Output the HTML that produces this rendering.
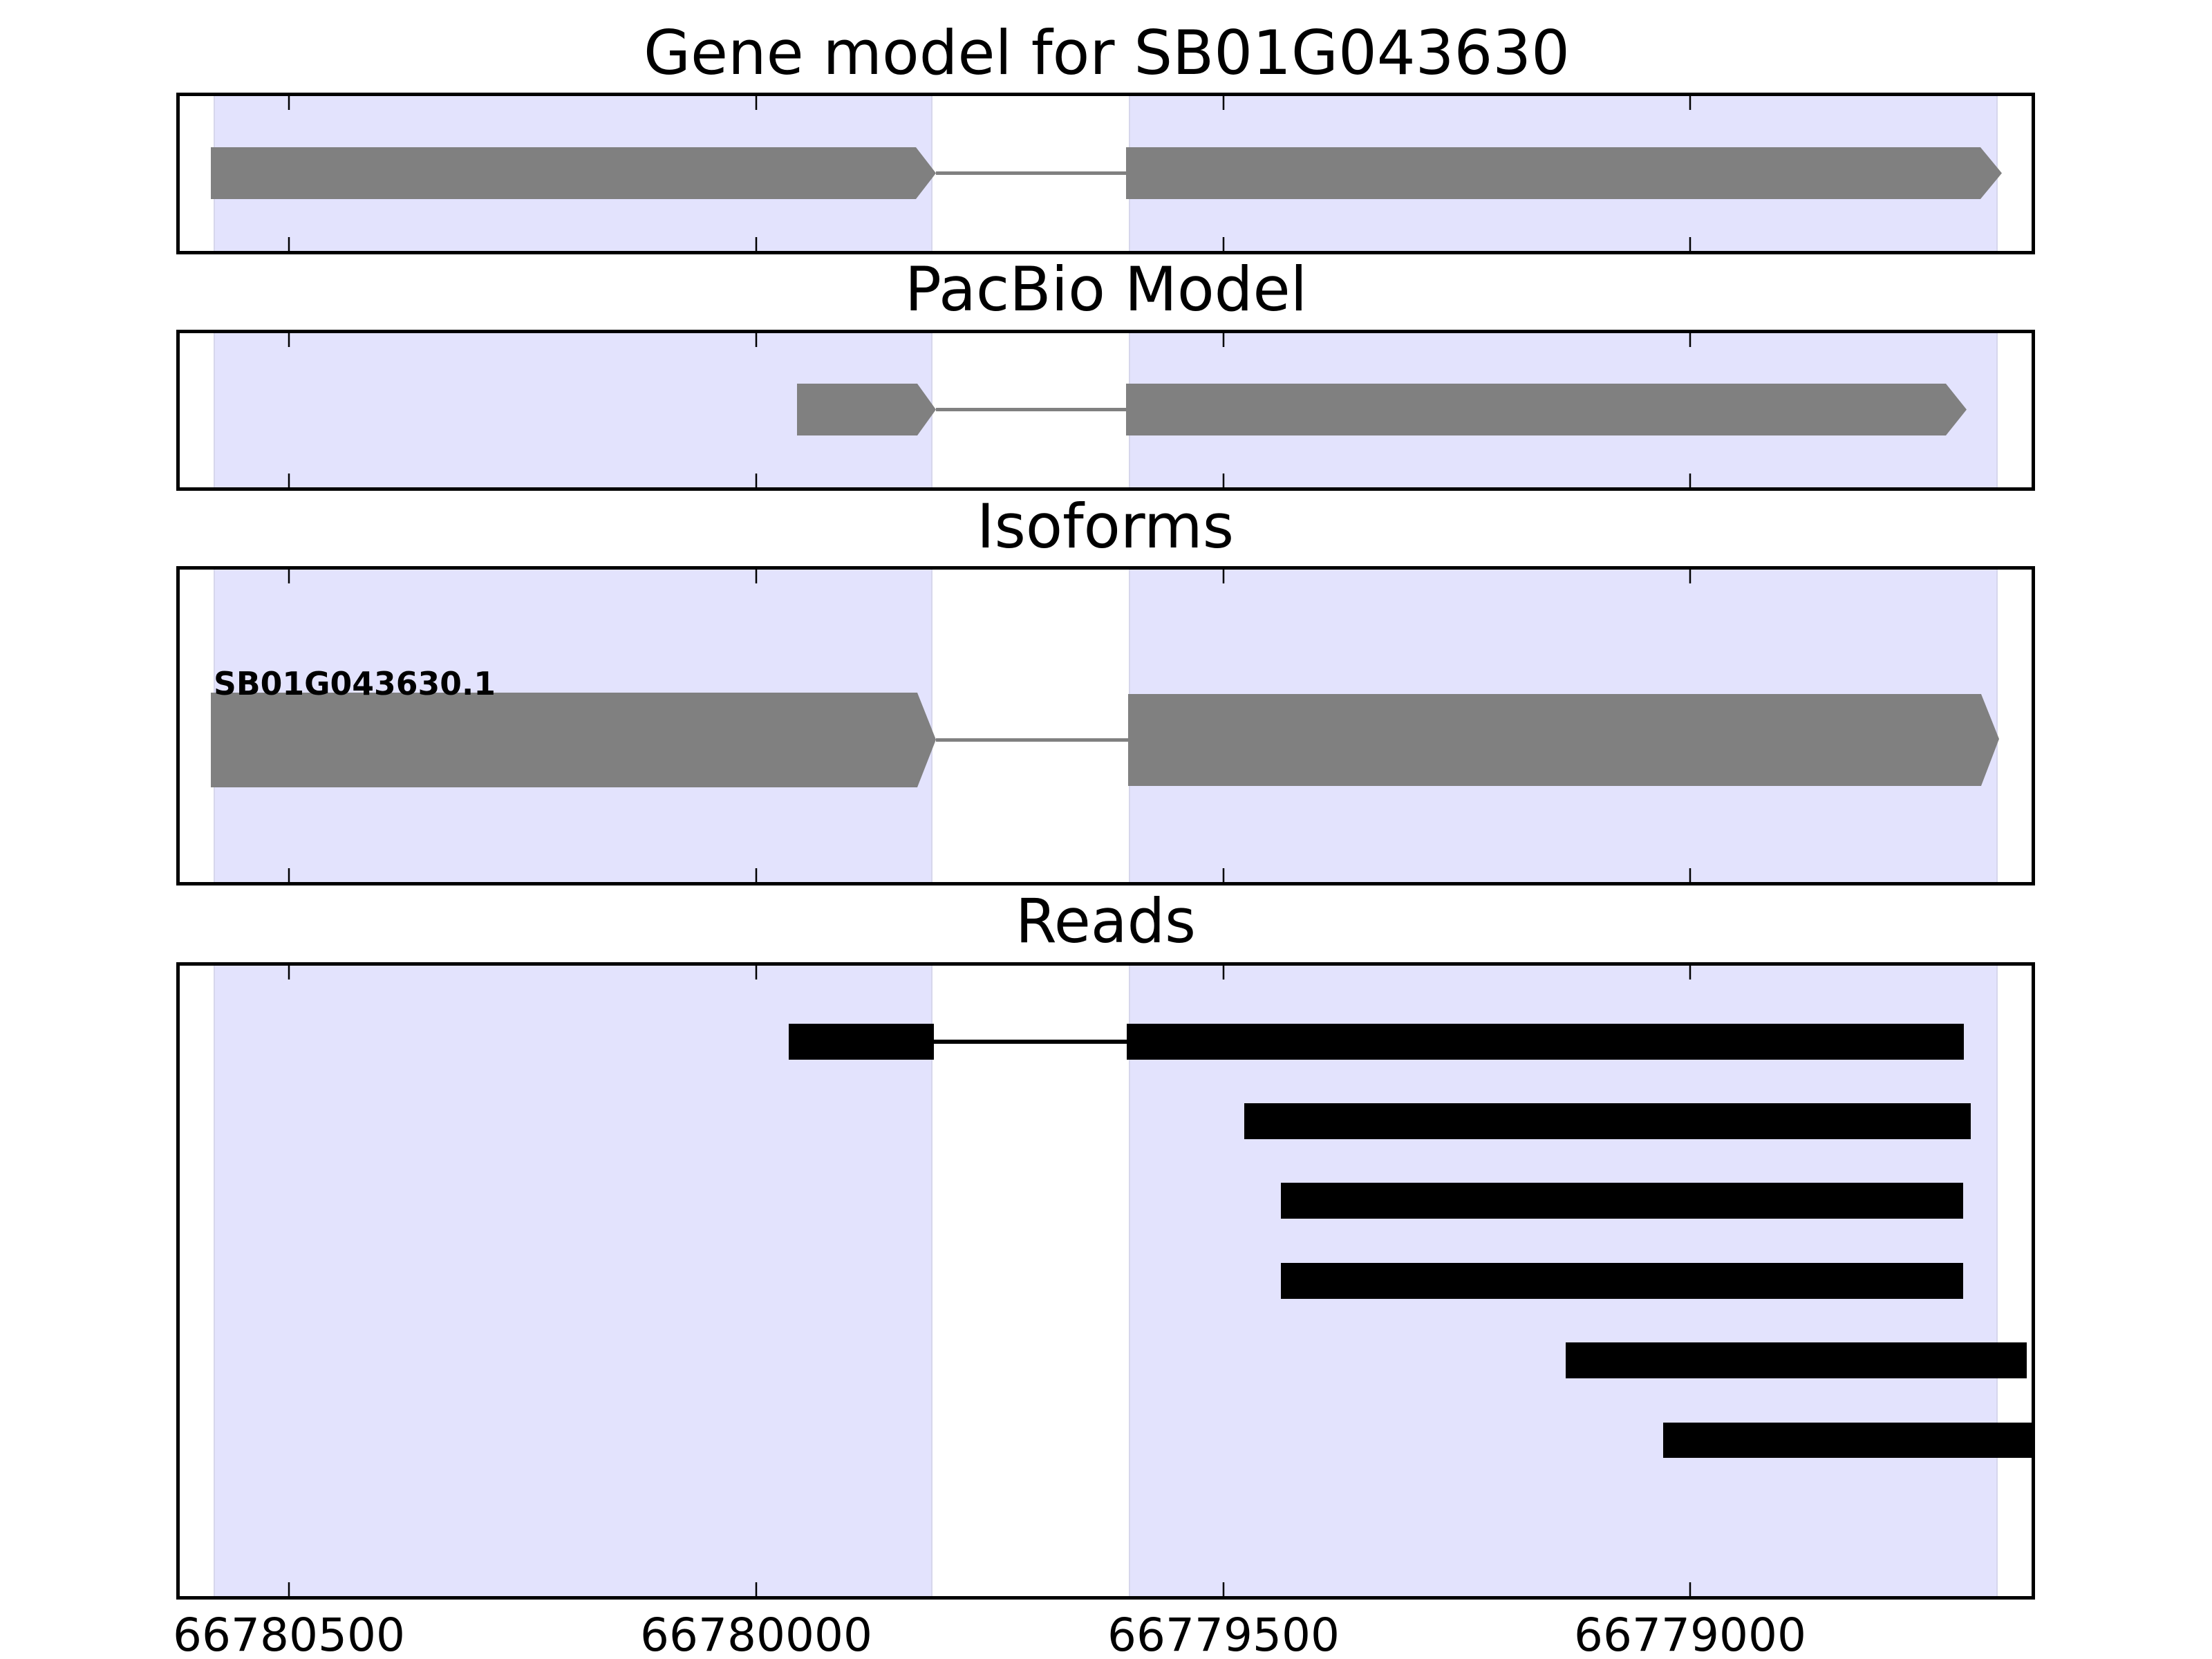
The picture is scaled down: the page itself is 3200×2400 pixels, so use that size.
<!DOCTYPE html>
<html><head><meta charset="utf-8"><style>html,body{margin:0;padding:0;background:#fff}svg{display:block}</style></head>
<body>
<svg width="3200" height="2400" viewBox="0 0 3200 2400" xmlns="http://www.w3.org/2000/svg" font-family="DejaVu Sans, Liberation Sans, sans-serif">
<rect width="3200" height="2400" fill="#fff"/>
<!-- bands -->
<g fill="#e3e3fd" stroke="#d6d6ec" stroke-width="2">
<rect x="310" y="136" width="1038" height="228"/><rect x="1634" y="136" width="1255" height="228"/>
<rect x="310" y="479" width="1038" height="227"/><rect x="1634" y="479" width="1255" height="227"/>
<rect x="310" y="821" width="1038" height="457"/><rect x="1634" y="821" width="1255" height="457"/>
<rect x="310" y="1394" width="1038" height="917"/><rect x="1634" y="1394" width="1255" height="917"/>
</g>
<!-- Gene model -->
<g fill="#808080">
<polygon points="305,213 1325,213 1354,250.5 1325,288 305,288"/>
<rect x="1354" y="248" width="275" height="5"/>
<polygon points="1629,213 2865,213 2896,250.5 2865,288 1629,288"/>
<polygon points="1153,555 1327,555 1354,592.5 1327,630 1153,630"/>
<rect x="1354" y="590" width="275" height="5"/>
<polygon points="1629,555 2815,555 2845,592.5 2815,630 1629,630"/>
<polygon points="305,1002 1327,1002 1354,1070 1327,1139 305,1139"/>
<rect x="1354" y="1068" width="278" height="5"/>
<polygon points="1632,1004 2866,1004 2892,1069 2866,1137 1632,1137"/>
</g>
<text x="309" y="1005" font-size="46" font-weight="bold" textLength="408" lengthAdjust="spacingAndGlyphs">SB01G043630.1</text>
<!-- reads -->
<g fill="#000">
<rect x="1141" y="1481" width="210" height="52"/>
<rect x="1351" y="1504" width="279" height="6"/>
<rect x="1630" y="1481" width="1211" height="52"/>
<rect x="1800" y="1596" width="1051" height="52"/>
<rect x="1853" y="1711" width="987" height="52"/>
<rect x="1853" y="1827" width="987" height="52"/>
<rect x="2265" y="1942" width="667" height="52"/>
<rect x="2406" y="2058" width="538" height="51"/>
</g>
<!-- frames -->
<g fill="none" stroke="#000" stroke-width="5">
<rect x="257.5" y="136.5" width="2684" height="229"/>
<rect x="257.5" y="479.5" width="2684" height="228"/>
<rect x="257.5" y="821.5" width="2684" height="457"/>
<rect x="257.5" y="1394.5" width="2684" height="917"/>
</g>
<!-- ticks -->
<g stroke="#000" stroke-width="2.5">
<path d="M418 139v20M1094 139v20M1770 139v20M2445 139v20M418 363v-20M1094 363v-20M1770 363v-20M2445 363v-20"/>
<path d="M418 482v20M1094 482v20M1770 482v20M2445 482v20M418 705v-20M1094 705v-20M1770 705v-20M2445 705v-20"/>
<path d="M418 824v20M1094 824v20M1770 824v20M2445 824v20M418 1276v-20M1094 1276v-20M1770 1276v-20M2445 1276v-20"/>
<path d="M418 1397v20M1094 1397v20M1770 1397v20M2445 1397v20M418 2309v-20M1094 2309v-20M1770 2309v-20M2445 2309v-20"/>
</g>
<!-- titles -->
<g font-size="88" fill="#000">
<text x="931" y="107" textLength="1340" lengthAdjust="spacingAndGlyphs">Gene model for SB01G043630</text>
<text x="1600" y="449" text-anchor="middle">PacBio Model</text>
<text x="1413" y="792" textLength="372" lengthAdjust="spacingAndGlyphs">Isoforms</text>
<text x="1469" y="1363" textLength="261" lengthAdjust="spacingAndGlyphs">Reads</text>
</g>
<g font-size="66" text-anchor="middle" fill="#000">
<text x="418" y="2388">66780500</text>
<text x="1094" y="2388">66780000</text>
<text x="1770" y="2388">66779500</text>
<text x="2445" y="2388">66779000</text>
</g>
</svg>
</body></html>
